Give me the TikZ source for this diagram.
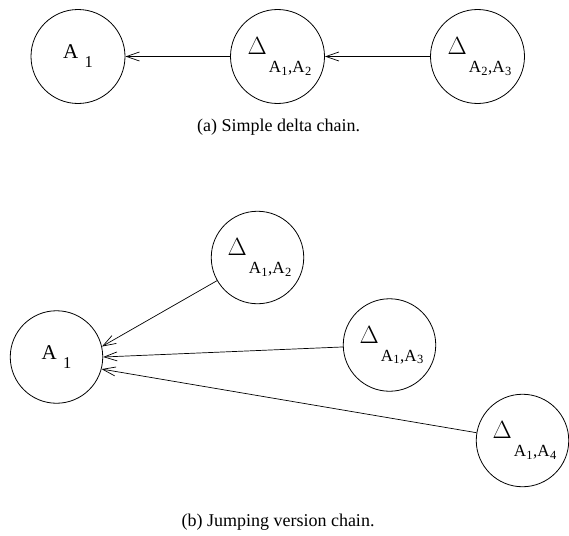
\documentclass[tikz,border=0pt]{standalone}
\usepackage{fontspec}
\setmainfont{Liberation Serif}
\usetikzlibrary{arrows.meta}
\newcommand{\subdig}[1]{\raisebox{-2.5pt}{\fontsize{12.5}{12.5}\selectfont #1}}
\newcommand{\dltlabel}[4]{\hspace*{4pt}{\fontsize{23.5}{23.5}\selectfont$\Delta$}\kern2pt\raisebox{-18pt}{\fontsize{17}{17}\selectfont A\kern0.3pt\subdig{#2}\kern0.5pt,A\kern0.3pt\subdig{#4}}}
\newcommand{\aonelabel}{{\fontsize{21}{21}\selectfont A}\kern6.5pt\raisebox{-9pt}{\fontsize{16.5}{16.5}\selectfont 1}}
\tikzset{
  bigcirc/.style={circle, draw, line width=0.8pt, minimum size=94pt, inner sep=0pt},
  smallcirc/.style={circle, draw, line width=0.8pt, minimum size=92.5pt, inner sep=0pt},
  conn/.style={line width=0.7pt, -{Straight Barb[length=13pt,width=9pt,line width=0.7pt]}},
  caption/.style={anchor=base, inner sep=0pt, font=\fontsize{18}{18}\selectfont}
}
\begin{document}
\begin{tikzpicture}[x=1pt,y=-1pt]
\useasboundingbox (0,0) rectangle (569,535);
% (a)
\node[bigcirc] (c1) at (78,56.5) {\aonelabel};
\node[bigcirc] (c2) at (277.5,56.5) {\dltlabel{A}{1}{A}{2}};
\node[bigcirc] (c3) at (477.5,56.5) {\dltlabel{A}{2}{A}{3}};
\draw[conn] (c2) -- (c1);
\draw[conn] (c3) -- (c2);
\node[caption] (capa) at (278.5,131) {(a) Simple delta chain.};
% (b)
\node[smallcirc] (a1) at (56.5,357) {\aonelabel};
\node[smallcirc] (d12) at (257.5,257.5) {\dltlabel{A}{1}{A}{2}};
\node[smallcirc] (d13) at (389.5,345) {\dltlabel{A}{1}{A}{3}};
\node[smallcirc] (d14) at (522.5,440.5) {\dltlabel{A}{1}{A}{4}};
\draw[conn] (d12) -- (a1.13.4);
\draw[conn] (d13) -- (a1.0);
\draw[conn] (d14) -- (a1.-15.6);
\node[caption] (capb) at (278,526) {(b) Jumping version chain.};
\end{tikzpicture}
\end{document}
